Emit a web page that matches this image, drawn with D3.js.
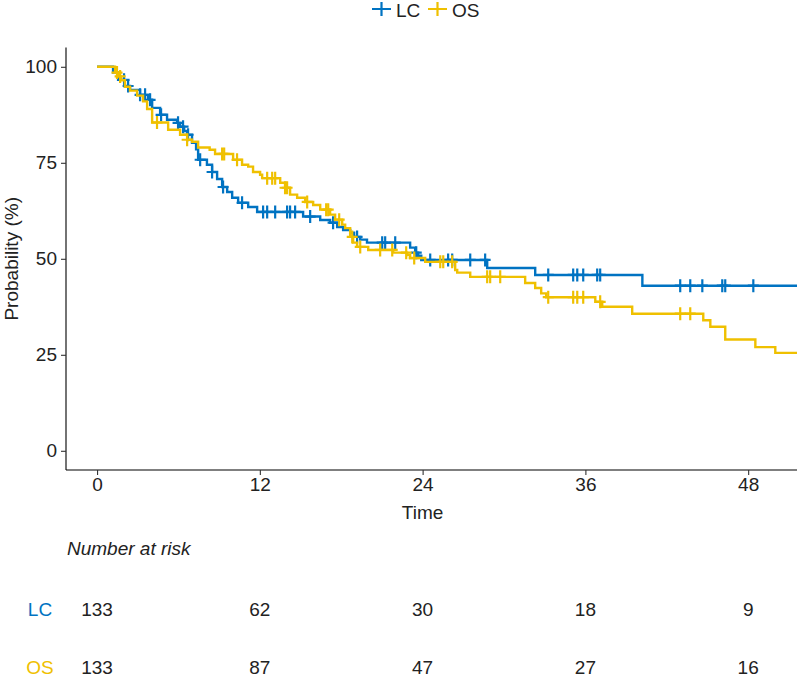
<!DOCTYPE html>
<html><head><meta charset="utf-8">
<script src="https://cdn.jsdelivr.net/npm/d3@7"></script>
<style>
body{margin:0;background:#fff;}
svg{display:block;font-family:"Liberation Sans",Arial,sans-serif;}
</style></head>
<body><svg id="c" width="797" height="677"></svg>
<script>
// ---- data ----
const groups = ["LC", "OS"];
const colors = ["#0073C2", "#EFC000"];
const xTicks = [0, 12, 24, 36, 48];
const yTicks = [0, 25, 50, 75, 100];
const riskLC = [133, 62, 30, 18, 9];
const riskOS = [133, 87, 47, 27, 16];
// step change points: [time, survival %]
const lcSteps = [[0,100],[1.18,98.5],[1.55,96.6],[2.0,95],[2.43,94],[3.17,92.7],[3.76,91.4],[4.06,89.3],[4.65,87.5],[5.16,86.2],[5.9,85.4],[6.12,84.4],[6.42,83.3],[6.64,82.3],[7.0,80.2],[7.3,78.5],[7.45,75.8],[8.1,74.5],[8.48,72.6],[8.85,70.8],[9.22,68.7],[9.59,67.4],[9.96,65.9],[10.4,64.6],[11.14,63.5],[11.8,62.2],[15.19,61],[16.45,60.1],[17.18,59.4],[17.7,58.3],[18.14,57.5],[18.66,56.8],[18.95,55.7],[19.4,55],[19.9,54.2],[23.08,52.9],[23.45,51.6],[23.67,50.8],[23.9,49.7],[28.76,47.6],[32.3,45.8],[40.2,43]];
const osSteps = [[0,100],[1.33,98.5],[1.55,97.5],[1.77,96.5],[2.06,94.8],[2.43,93.8],[2.95,92.5],[3.39,91],[3.69,89],[4.06,85.5],[5.24,83.6],[6.12,82.3],[6.64,81],[7.0,80.5],[7.45,79],[8.3,78.4],[8.7,77.3],[10.03,75.8],[10.69,74.5],[11.14,74],[11.5,72.6],[12.02,71.9],[12.17,71],[13.5,69.8],[13.86,68.5],[14.23,66.7],[14.75,65.9],[15.34,64.8],[15.93,64],[16.45,62.8],[17.18,61.5],[17.55,60.2],[18.07,58.9],[18.29,58],[18.66,55.7],[18.88,54.2],[19.17,53.1],[19.99,52.3],[21.83,51.6],[22.86,51],[23.08,50.2],[24.19,49.2],[26.4,47.1],[26.55,46.4],[27.51,45.3],[31.56,43.7],[32.3,42.4],[32.74,41],[33.11,40],[36.73,38.8],[37.24,37.5],[39.45,35.7],[44.69,34],[45.21,32.3],[46.31,29],[48.53,27],[50.0,25.5]];
const lcCensor = [1.99,2.29,3.17,3.54,3.91,4.72,5.97,6.34,6.71,7.6,8.48,9.29,10.69,12.24,12.54,13.13,14.01,14.23,14.6,15.71,17.4,19.17,21.02,21.24,21.98,23.53,24.56,25.88,26.18,27.51,28.61,33.26,35.1,35.4,35.84,36.87,37.09,42.99,43.73,44.62,46.09,46.31,48.38];
const osCensor = [1.47,1.7,4.42,6.64,9.22,9.37,10.32,12.54,12.91,13.13,13.86,14.01,15.49,16.89,17.04,17.85,18.81,19.4,20.87,21.76,22.79,23.38,25.3,25.52,26.18,28.76,28.98,29.72,33.26,35.1,35.4,35.84,37.09,42.99,43.73];
const tEnd = 51.6;

// ---- drawing ----
const svg = d3.select("#c");
const x = d3.scaleLinear().domain([-2.29, tEnd]).range([66, 797]);
const y = d3.scaleLinear().domain([-5, 105]).range([470, 47.6]);
const FS = 19;

function valAt(steps, t){ let v = steps[0][1]; for (const s of steps){ if (s[0] <= t) v = s[1]; } return v; }

const series = [
  {name: groups[0], color: colors[0], steps: lcSteps, censor: lcCensor, risk: riskLC},
  {name: groups[1], color: colors[1], steps: osSteps, censor: osCensor, risk: riskOS}
];

// axes
const gx = svg.append("g").attr("transform", "translate(0,470)")
  .call(d3.axisBottom(x).tickValues(xTicks).tickSize(5).tickPadding(3));
const gy = svg.append("g").attr("transform", "translate(66,0)")
  .call(d3.axisLeft(y).tickValues(yTicks).tickSize(5).tickPadding(4));
[gx, gy].forEach(g => {
  g.select(".domain").attr("stroke", "#000").attr("stroke-width", 1.1);
  g.selectAll(".tick line").attr("stroke", "#333").attr("stroke-width", 1.1);
  g.selectAll(".tick text").attr("fill", "#222").style("font-size", FS + "px").style("font-family", null);
});
gx.select(".domain").attr("d", `M${x.range()[0]},0H${x.range()[1]}`);
gy.select(".domain").attr("d", `M0,${y.range()[0]}V${y.range()[1]}`);

svg.append("text").attr("x", x(24)).attr("y", 519).attr("text-anchor", "middle")
  .attr("fill", "#222").style("font-size", FS + "px").text("Time");
svg.append("text").attr("transform", `translate(18,${y(50)}) rotate(-90)`).attr("text-anchor", "middle")
  .attr("fill", "#222").style("font-size", FS + "px").text("Probability (%)");

const line = d3.line().x(d => x(d[0])).y(d => y(d[1])).curve(d3.curveStepAfter);

series.forEach(s => {
  const pts = s.steps.concat([[tEnd, s.steps[s.steps.length - 1][1]]]);
  svg.append("path").datum(pts).attr("d", line).attr("fill", "none")
    .attr("stroke", s.color).attr("stroke-width", 2.4);
  svg.append("g").selectAll("path").data(s.censor).join("path")
    .attr("d", t => { const cx = x(t), cy = y(valAt(s.steps, t)); return `M${cx-5.5},${cy}H${cx+5.5}M${cx},${cy-6.5}V${cy+6.5}`; })
    .attr("stroke", s.color).attr("stroke-width", 2.2);
});

// legend
const leg = [{x0: 372, tx: 396}, {x0: 428, tx: 452}];
series.forEach((s, i) => {
  const L = leg[i];
  svg.append("path").attr("d", `M${L.x0},9H${L.x0+19}M${L.x0+9.5},2V16`).attr("stroke", s.color).attr("stroke-width", 2.2);
  svg.append("text").attr("x", L.tx).attr("y", 17).attr("fill", "#222").style("font-size", FS + "px").text(s.name);
});

// risk table
svg.append("text").attr("x", 67).attr("y", 555).attr("fill", "#222").style("font-size", FS + "px")
  .style("font-style", "italic").text("Number at risk");
const rowY = [616, 674];
series.forEach((s, i) => {
  svg.append("text").attr("x", 40).attr("y", rowY[i]).attr("text-anchor", "middle").attr("fill", s.color)
    .style("font-size", FS + "px").text(s.name);
  svg.append("g").selectAll("text").data(s.risk).join("text")
    .attr("x", (d, j) => x(xTicks[j])).attr("y", rowY[i]).attr("text-anchor", "middle")
    .attr("fill", "#222").style("font-size", FS + "px").text(d => d);
});
</script></body></html>
